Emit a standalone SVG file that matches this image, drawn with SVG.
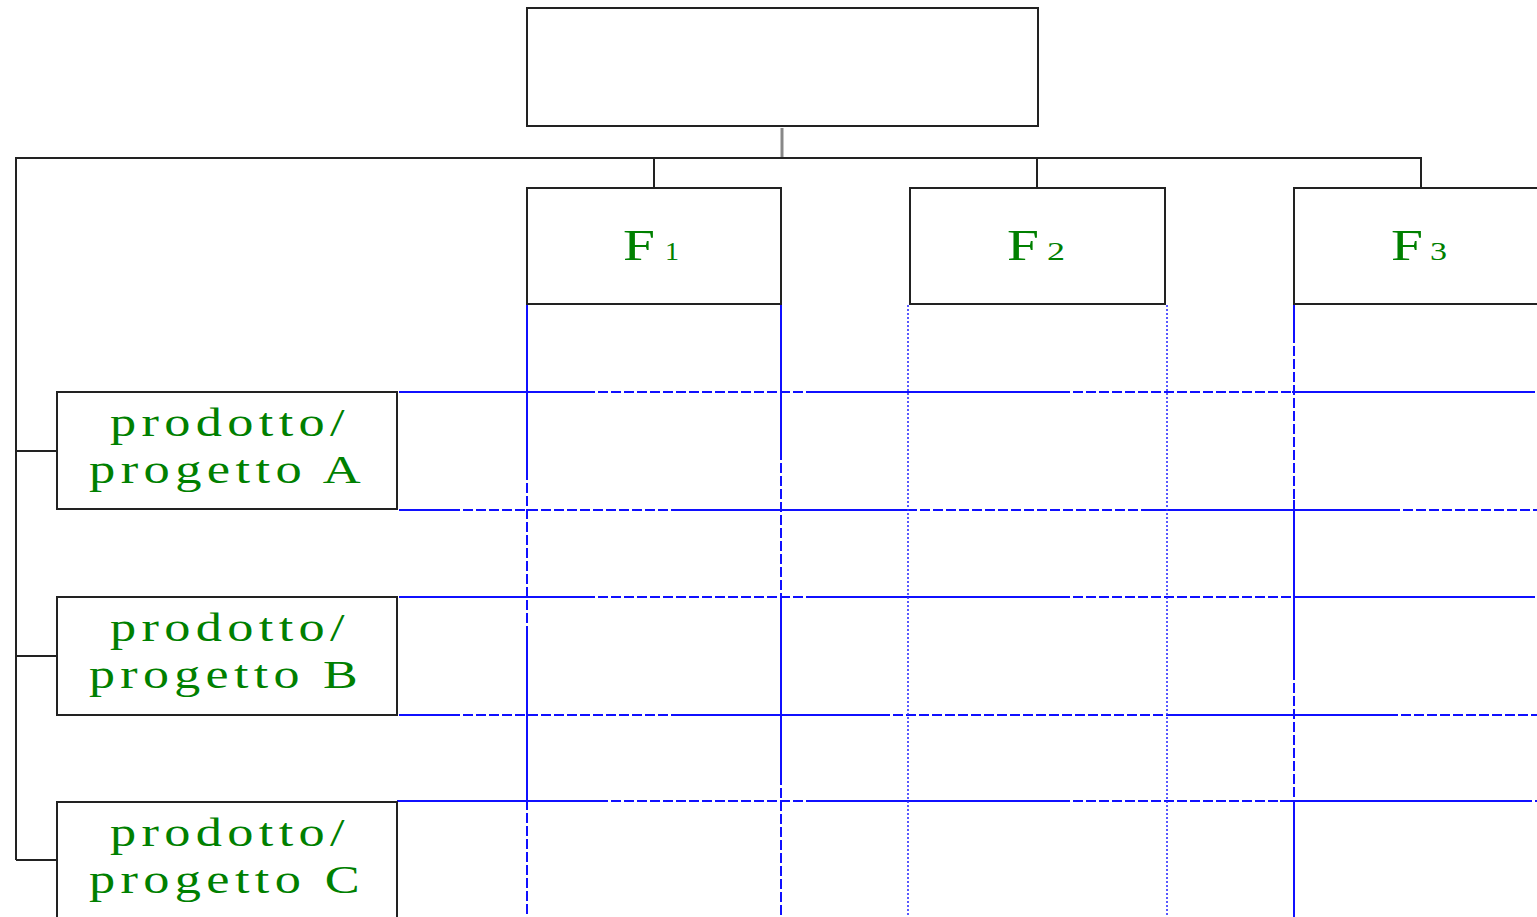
<svg xmlns="http://www.w3.org/2000/svg" width="1537" height="917" viewBox="0 0 1537 917">
<style>
.box{fill:#fff;stroke:#222;stroke-width:2}
.con{fill:none;stroke:#222;stroke-width:2}
.lbl{font-family:"Liberation Serif","Times New Roman",serif;fill:#008000}
.pl{font-size:39px;letter-spacing:4px}
.fb{font-size:44px}
.fs{font-size:25px}
.bs{stroke:#1010ff;stroke-width:2;fill:none}
.bd{stroke:#1010ff;stroke-width:2;fill:none;stroke-dasharray:10 3}
.bt{stroke:#3030ff;stroke-width:2;fill:none;stroke-dasharray:2 2;opacity:0.8}
</style>
<rect width="1537" height="917" fill="#fff"/>
<g id="connectors">
<line x1="782" y1="128" x2="782" y2="157" stroke="#888" stroke-width="3"/>
<polyline class="con" points="16,860 16,158 1421,158 1421,188"/>
<line class="con" x1="654" y1="158" x2="654" y2="188"/>
<line class="con" x1="1037" y1="158" x2="1037" y2="188"/>
<line class="con" x1="16" y1="451" x2="57" y2="451"/>
<line class="con" x1="16" y1="656" x2="57" y2="656"/>
<line class="con" x1="16" y1="860" x2="57" y2="860"/>
</g>
<g id="grid">
<line class="bs" x1="399" y1="392" x2="585" y2="392"/><line class="bd" x1="585" y1="392" x2="815" y2="392"/><line class="bs" x1="815" y1="392" x2="1060" y2="392"/><line class="bd" x1="1060" y1="392" x2="1292" y2="392"/><line class="bs" x1="1292" y1="392" x2="1525" y2="392"/><line class="bd" x1="1525" y1="392" x2="1537" y2="392"/>
<line class="bs" x1="399" y1="510" x2="450" y2="510"/><line class="bd" x1="450" y1="510" x2="680" y2="510"/><line class="bs" x1="680" y1="510" x2="907" y2="510"/><line class="bd" x1="907" y1="510" x2="1143" y2="510"/><line class="bs" x1="1143" y1="510" x2="1390" y2="510"/><line class="bd" x1="1390" y1="510" x2="1537" y2="510"/>
<line class="bs" x1="399" y1="597" x2="585" y2="597"/><line class="bd" x1="585" y1="597" x2="815" y2="597"/><line class="bs" x1="815" y1="597" x2="1060" y2="597"/><line class="bd" x1="1060" y1="597" x2="1294" y2="597"/><line class="bs" x1="1294" y1="597" x2="1525" y2="597"/><line class="bd" x1="1525" y1="597" x2="1537" y2="597"/>
<line class="bs" x1="399" y1="715" x2="450" y2="715"/><line class="bd" x1="450" y1="715" x2="680" y2="715"/><line class="bs" x1="680" y1="715" x2="880" y2="715"/><line class="bd" x1="880" y1="715" x2="1167" y2="715"/><line class="bs" x1="1167" y1="715" x2="1388" y2="715"/><line class="bd" x1="1388" y1="715" x2="1537" y2="715"/>
<line class="bs" x1="397" y1="801" x2="598" y2="801"/><line class="bd" x1="598" y1="801" x2="815" y2="801"/><line class="bs" x1="815" y1="801" x2="1060" y2="801"/><line class="bd" x1="1060" y1="801" x2="1280" y2="801"/><line class="bs" x1="1280" y1="801" x2="1522" y2="801"/><line class="bd" x1="1522" y1="801" x2="1537" y2="801"/>
<line class="bs" x1="527" y1="305" x2="527" y2="470"/><line class="bd" x1="527" y1="470" x2="527" y2="632"/><line class="bs" x1="527" y1="632" x2="527" y2="800"/><line class="bd" x1="527" y1="800" x2="527" y2="917"/>
<line class="bs" x1="781" y1="305" x2="781" y2="450"/><line class="bd" x1="781" y1="450" x2="781" y2="600"/><line class="bs" x1="781" y1="600" x2="781" y2="775"/><line class="bd" x1="781" y1="775" x2="781" y2="917"/>
<line class="bt" x1="908" y1="305" x2="908" y2="917"/>
<line class="bt" x1="1167" y1="305" x2="1167" y2="917"/>
<line class="bs" x1="1294" y1="300" x2="1294" y2="333"/><line class="bd" x1="1294" y1="333" x2="1294" y2="500"/><line class="bs" x1="1294" y1="500" x2="1294" y2="670"/><line class="bd" x1="1294" y1="670" x2="1294" y2="800"/><line class="bs" x1="1294" y1="800" x2="1294" y2="917"/>
</g>
<g id="top"><rect class="box" x="527" y="8" width="511" height="118"/></g>
<g id="f1"><rect class="box" x="527" y="188" width="254" height="116"/>
<text class="lbl" y="260"><tspan class="fb" x="623" textLength="32" lengthAdjust="spacingAndGlyphs">F</tspan><tspan class="fs" x="665" textLength="14" lengthAdjust="spacingAndGlyphs">1</tspan></text></g>
<g id="f2"><rect class="box" x="910" y="188" width="255" height="116"/>
<text class="lbl" y="260"><tspan class="fb" x="1007" textLength="32" lengthAdjust="spacingAndGlyphs">F</tspan><tspan class="fs" x="1047" textLength="18" lengthAdjust="spacingAndGlyphs">2</tspan></text></g>
<g id="f3"><rect class="box" x="1294" y="188" width="270" height="116"/>
<text class="lbl" y="260"><tspan class="fb" x="1391" textLength="32" lengthAdjust="spacingAndGlyphs">F</tspan><tspan class="fs" x="1430" textLength="17" lengthAdjust="spacingAndGlyphs">3</tspan></text></g>
<g id="pA"><rect class="box" x="57" y="392" width="340" height="117"/>
<text class="lbl pl" x="110" y="436" textLength="240" lengthAdjust="spacingAndGlyphs">prodotto/</text>
<text class="lbl pl" x="89" y="483" textLength="277" lengthAdjust="spacingAndGlyphs">progetto A</text></g>
<g id="pB"><rect class="box" x="57" y="597" width="340" height="118"/>
<text class="lbl pl" x="110" y="641" textLength="240" lengthAdjust="spacingAndGlyphs">prodotto/</text>
<text class="lbl pl" x="89" y="688" textLength="274" lengthAdjust="spacingAndGlyphs">progetto B</text></g>
<g id="pC"><rect class="box" x="57" y="802" width="340" height="130"/>
<text class="lbl pl" x="110" y="846" textLength="240" lengthAdjust="spacingAndGlyphs">prodotto/</text>
<text class="lbl pl" x="89" y="893" textLength="276" lengthAdjust="spacingAndGlyphs">progetto C</text></g>
</svg>
